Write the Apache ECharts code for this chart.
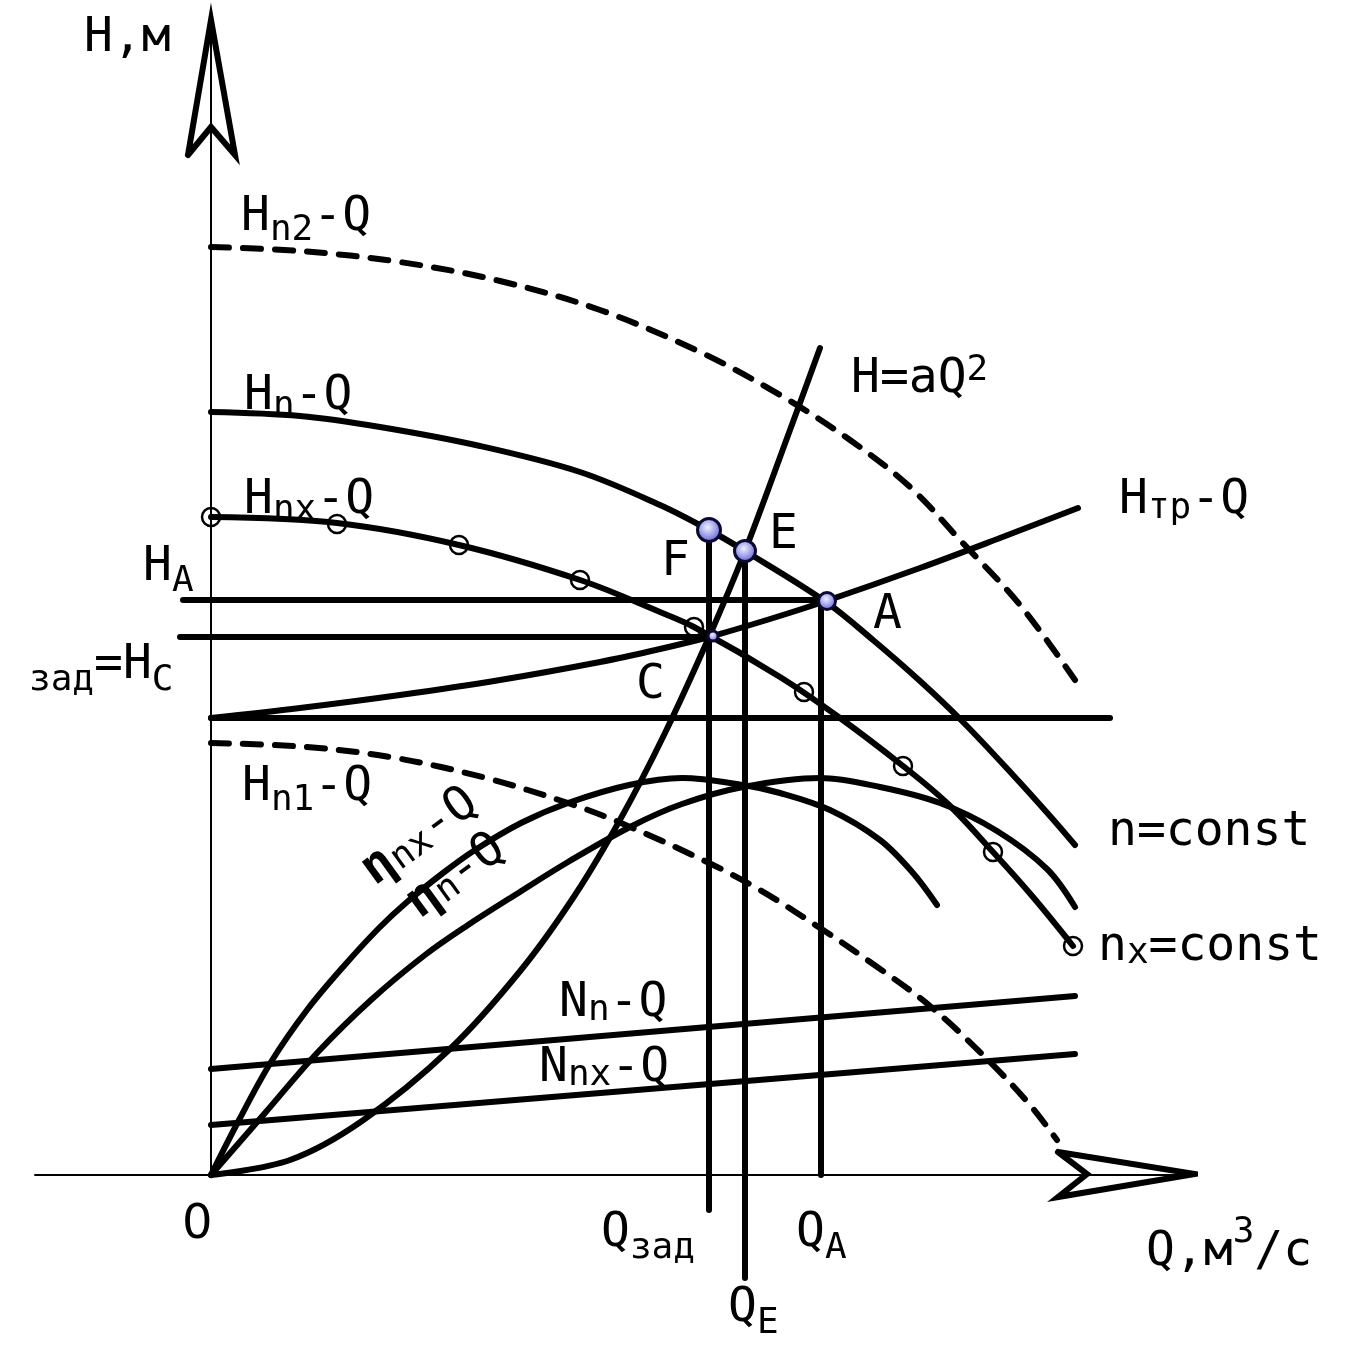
<!DOCTYPE html>
<html><head><meta charset="utf-8">
<script src="https://cdn.jsdelivr.net/npm/echarts@6/dist/echarts.min.js"></script>
<style>html,body{margin:0;padding:0;background:#fff}#c{width:1369px;height:1352px}</style>
</head><body><div id="c"></div>
<script>
// ---- Data: [Q, H] in drawing units (origin at Q=0, H=0) ----
const curveHn2 = [[0,928],[89,924],[189,913],[289,894],[389,865],[489,823],[569,780],[639,735],[699,688],[749,635],[809,570],[864,495]];
const curveHn  = [[0,763],[89,759],[169,748],[269,729],[369,703],[449,670],[498,645],[534,624],[615,573],[662,535],[709,494],[752,453],[802,400],[839,359],[864,330]];
const curveHnx = [[0,658],[126,652],[248,630],[369,595],[449,563],[483,548],[569,498],[629,457],[692,409],[736,372],[782,323],[822,278],[862,229]];
const markersHnx = [[0,658],[126,651],[248,630],[369,595],[483,548],[593,483],[692,409],[782,323],[862,229]];
const curveHtp = [[0,457],[89,467],[189,480],[289,495],[389,513],[449,526],[498,538],[559,556],[615,574],[709,607],[789,637],[867,667]];
const lineHst  = [[0,457],[899,457]];
const curveAQ2 = [[0,0],[79,15],[151,54],[239,126],[310,205],[364,280],[410,357],[453,440],[498,538],[534,624],[579,745],[609,827]];
const curveHn1 = [[0,432],[96,428],[185,417],[275,397],[357,372],[410,352],[496,313],[549,285],[609,247],[662,211],[719,169],[779,113],[819,70],[846,35]];
const curveEtaNx = [[0,0],[28,55],[60,113],[96,165],[132,208],[168,247],[196,273],[232,302],[264,325],[310,352],[357,372],[418,390],[471,397],[532,390],[569,382],[619,365],[669,335],[702,302],[726,270]];
const curveEtaN  = [[0,0],[54,62],[107,123],[160,175],[214,220],[257,250],[304,280],[357,313],[421,349],[471,371],[532,388],[609,397],[669,388],[729,372],[786,344],[836,306],[864,268]];
const lineNn  = [[0,106],[864,179]];
const lineNnx = [[0,50],[864,121]];
const lineHA = [[-28,575],[616,575]];
const lineHC = [[-31,538],[502,538]];
const vertQzad = [[498,645],[498,-35]];
const vertQE   = [[534,624],[534,-103]];
const vertQA   = [[610,575],[610,0]];
const keyPoints = [{name:'F', value:[498,645]},{name:'E', value:[534,624]},{name:'A', value:[616,574]},{name:'C', value:[502,539]}];
const arrowH = [[-23,1020],[0,1155],[24,1020],[0,1048],[-23,1020]];
const arrowQ = [[847,23],[984,1],[847,-22],[876,1],[847,23]];

// ---- Styles ----
const FONT = "'DejaVu Sans Mono', monospace";
const pointSize = {F:23, E:21, A:17, C:10};
function sub(drop){ return {fontSize:36, fontFamily:FONT, fill:'#000', height:36, lineHeight:48+drop-3, verticalAlign:'bottom'}; }
function mainB(k){ return {fontSize:48, fontFamily:FONT, fill:'#000', height:48, lineHeight:48+k, verticalAlign:'bottom'}; }
const RICH = {
  m:{fontSize:48, fontFamily:FONT, fill:'#000', height:48, lineHeight:48, verticalAlign:'top'},
  z:{fontSize:48, fontFamily:"'DejaVu Sans', sans-serif", fill:'#000', height:48, lineHeight:48, verticalAlign:'top'},
  e:{fontSize:50, fontFamily:FONT, fontWeight:'bold', fill:'#000', height:48, lineHeight:48, verticalAlign:'top'},
  s1:sub(1), s2:sub(2), s4:sub(4), s5:sub(5), s7:sub(7), s10:sub(10), s11:sub(11), s12:sub(12),
  b3:mainB(3), b14:mainB(14),
  p:{fontSize:36, fontFamily:FONT, fill:'#000', height:36, lineHeight:36, verticalAlign:'top'}
};
const BASE = 38;
function lab(x, base, rt, k){ return {type:'text', x:x-4, y:base-BASE-(k||0), z:100, silent:true,
  style:{text:rt, rich:RICH, align:'left', verticalAlign:'top', fill:'#000', fontSize:48, fontFamily:FONT}}; }
function labRot(x, base, rt, deg){ const t=deg*Math.PI/180; return {type:'text', x:x-BASE*Math.sin(t), y:base-BASE*Math.cos(t), rotation:t, z:100, silent:true,
  style:{text:rt, rich:RICH, align:'left', verticalAlign:'top', fill:'#000', fontSize:48, fontFamily:FONT}}; }

const solid = {color:'#000', width:6, cap:'round', join:'round'};
const dashed = {color:'#000', width:6, type:[18,14], cap:'round'};
function curve(data, ls, z){ return {type:'line', data, showSymbol:false, symbol:'none', smooth:0.35, clip:false, lineStyle:ls, z:z||3, silent:true}; }
function straight(data, ls, z){ return {type:'line', data, showSymbol:false, symbol:'none', smooth:false, clip:false, lineStyle:ls, z:z||3, silent:true}; }

const chart = echarts.init(document.getElementById('c'), null, {renderer:'canvas'});
chart.setOption({
  animation:false,
  backgroundColor:'#fff',
  grid:{left:35, right:174, top:20, bottom:177},
  xAxis:{type:'value', min:-176, max:984, axisLine:{show:true, onZero:true, lineStyle:{color:'#000', width:2}}, axisTick:{show:false}, axisLabel:{show:false}, splitLine:{show:false}},
  yAxis:{type:'value', min:0, max:1155, axisLine:{show:true, onZero:true, lineStyle:{color:'#000', width:2}}, axisTick:{show:false}, axisLabel:{show:false}, splitLine:{show:false}},
  series:[
    curve(curveHn2, dashed),
    curve(curveHn, solid),
    curve(curveHnx, solid),
    curve(curveHtp, solid),
    straight(lineHst, solid),
    curve(curveAQ2, solid),
    curve(curveHn1, dashed),
    curve(curveEtaNx, solid),
    curve(curveEtaN, solid),
    straight(lineNn, solid),
    straight(lineNnx, solid),
    straight(lineHA, solid),
    straight(lineHC, solid),
    straight(vertQzad, solid),
    straight(vertQE, solid),
    straight(vertQA, solid),
    straight(arrowH, {color:'#000', width:6, join:'miter', cap:'round'}),
    straight(arrowQ, {color:'#000', width:6, join:'miter', cap:'round'}),
    {type:'scatter', data:markersHnx, symbol:'circle', symbolSize:18, clip:false, z:5, silent:true,
      itemStyle:{color:'rgba(255,255,255,0)', borderColor:'#000', borderWidth:2.5, opacity:1}},
    {type:'scatter', data:keyPoints, symbol:'circle', clip:false, z:6, silent:true,
      symbolSize:(v,p)=>pointSize[p.name],
      itemStyle:{opacity:1, color:{type:'radial', x:0.45, y:0.4, r:0.6, colorStops:[{offset:0,color:'#f0f0ff'},{offset:1,color:'#5a5ad8'}]}, borderColor:'#0a0a30', borderWidth:3}}
  ],
  graphic:[
    lab(88, 53, '{m|H,м}'),
    lab(245, 232, '{m|H}{s10|n2}{m|-Q}'),
    lab(248, 411, '{m|H}{s7|n}{m|-Q}'),
    lab(248, 515, '{m|H}{s7|nx}{m|-Q}'),
    lab(855, 394, '{b3|H=aQ}{p|2}', 3),
    lab(1123, 515, '{m|H}{s5|тр}{m|-Q}'),
    lab(773, 550, '{m|E}'),
    lab(665, 577, '{m|F}'),
    lab(877, 630, '{m|A}'),
    lab(640, 700, '{m|C}'),
    lab(147, 582, '{m|H}{s11|A}'),
    lab(33, 680, '{s7|зад}{m|=H}{s12|C}'),
    lab(246, 802, '{m|H}{s10|n1}{m|-Q}'),
    lab(1112, 847, '{m|n=const}'),
    lab(1102, 962, '{m|n}{s1|x}{m|=const}'),
    lab(563, 1018, '{m|N}{s4|n}{m|-Q}'),
    lab(543, 1083, '{m|N}{s4|nx}{m|-Q}'),
    lab(186, 1240, '{z|0}'),
    lab(605, 1248, '{m|Q}{s12|зад}'),
    lab(800, 1248, '{m|Q}{s12|A}'),
    lab(732, 1323, '{m|Q}{s12|E}'),
    lab(1150, 1267, '{b14|Q,м}{p|3}{b14|/с}', 14),
    labRot(375, 887, '{e|η}{s2|nx}{m|-Q}', 36),
    labRot(420, 920, '{e|η}{s2|n}{m|-Q}', 36)
  ]
});
</script></body></html>
